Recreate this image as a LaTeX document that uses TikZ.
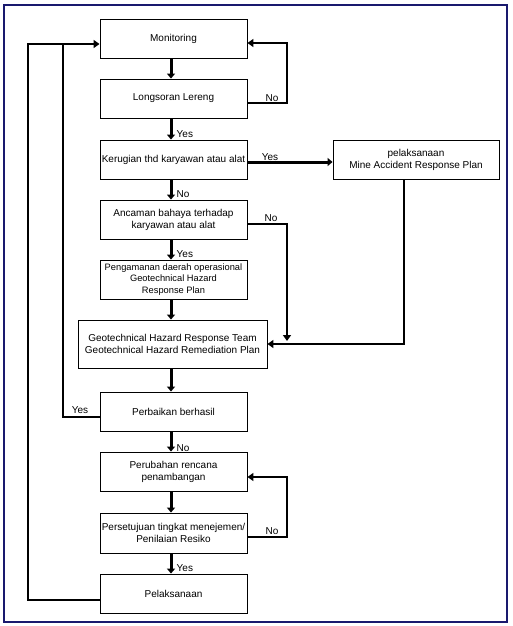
\documentclass[tikz,border=0pt]{standalone}
\usepackage{fontspec}
\setmainfont{Liberation Sans}
\usetikzlibrary{arrows.meta,calc}
\begin{document}
\begin{tikzpicture}[x=1pt,y=-1pt,
  box/.style={draw=black,line width=0.9pt,rectangle,align=center,inner sep=1pt,font=\fontsize{10}{12}\selectfont},
  flow/.style={line width=3pt,-{Triangle[length=5pt,width=8pt]}},
  loop/.style={line width=2pt},
  loopa/.style={line width=2pt,-{Triangle[length=6pt,width=8pt]}},
  lbl/.style={font=\fontsize{10}{11}\selectfont,inner sep=0.5pt}]
\useasboundingbox (0,0) rectangle (512,626);
\fill[white] (0,0) rectangle (512,626);
\draw[line width=2.5pt,draw={rgb,255:red,25;green,25;blue,110}] (4,5) rectangle (507,622);
% boxes
\node[box,minimum width=147pt,minimum height=39pt] (mon) at (173.5,38.5) {Monitoring};
\node[box,minimum width=147pt,minimum height=39pt] (lon) at (173.5,98.5) {Longsoran Lereng};
\node[box,minimum width=147pt,minimum height=39pt] (ker) at (173.5,159.5) {Kerugian thd karyawan atau alat};
\node[box,minimum width=166pt,minimum height=39pt] (marp) at (416,159.5) {pelaksanaan\\Mine Accident Response Plan};
\node[box,minimum width=147pt,minimum height=39pt] (anc) at (173.5,219.5) {Ancaman bahaya terhadap\\karyawan atau alat};
\node[box,minimum width=147pt,minimum height=39pt,font=\fontsize{9.3}{11.5}\selectfont] (pen) at (173.5,279.5) {Pengamanan daerah operasional\\Geotechnical Hazard\\Response Plan};
\node[box,minimum width=189pt,minimum height=48pt] (ght) at (172.5,344) {Geotechnical Hazard Response Team\\Geotechnical Hazard Remediation Plan};
\node[box,minimum width=147pt,minimum height=39pt] (per) at (173.5,411.5) {Perbaikan berhasil};
\node[box,minimum width=147pt,minimum height=39pt] (peru) at (173.5,471.5) {Perubahan rencana\\penambangan};
\node[box,minimum width=147pt,minimum height=40pt] (pers) at (173.5,533) {Persetujuan tingkat menejemen/\\Penilaian Resiko};
\node[box,minimum width=147pt,minimum height=39pt] (pel) at (173.5,593.5) {Pelaksanaan};
% main vertical arrows
\coordinate (ax) at (171,0);
\foreach \a/\b in {mon/lon,lon/ker,ker/anc,anc/pen,pen/ght,ght/per,per/peru,peru/pers,pers/pel}
  \draw[flow] (\a.south -| ax) -- (\b.north -| ax);
% down labels
\node[lbl,anchor=west] (l1) at (176,134) {Yes};
\node[lbl,anchor=west] (l2) at (176,194) {No};
\node[lbl,anchor=west] (l3) at (176,254) {Yes};
\node[lbl,anchor=west] (l4) at (176,448) {No};
\node[lbl,anchor=west] (l5) at (176,568) {Yes};
% coordinates
\coordinate (c1) at (287,43);
\coordinate (c3) at (404,344);
\coordinate (c4) at (287,341);
\coordinate (c5) at (28,44);
\coordinate (c6) at (63,44);
\coordinate (c7) at (287,477);
% Longsoran No loop
\draw[loopa] ([yshift=-4pt]lon.east) -| (c1) -- ([yshift=-4.5pt]mon.east);
\node[lbl] (n1) at (272,98) {No};
% Kerugian Yes
\draw[flow] ([yshift=-2.5pt]ker.east) -- ([yshift=-2.5pt]marp.west);
\node[lbl] (y1) at (270,157) {Yes};
% MARP down to GHT
\draw[loop,-{Triangle[length=6pt,width=8pt]}] (c3 |- marp.south) -- (c3) -- (ght.east);
% Ancaman No
\draw[loop,-{Triangle[length=6pt,width=8pt]}] ([yshift=-4.5pt]anc.east) -| (c4);
\node[lbl] (n2) at (271,218) {No};
% left loops
\draw[loopa] ([yshift=-6.5pt]pel.west) -| (c5) -- ([yshift=-5.5pt]mon.west);
\draw[loop] ([yshift=-5.5pt]per.west) -| (c6);
\node[lbl] (y2) at (80,410) {Yes};
% Persetujuan No loop
\draw[loopa] ([yshift=-4pt]pers.east) -| (c7) -- ([yshift=-5.5pt]peru.east);
\node[lbl] (n3) at (272,531) {No};
\end{tikzpicture}
\end{document}
